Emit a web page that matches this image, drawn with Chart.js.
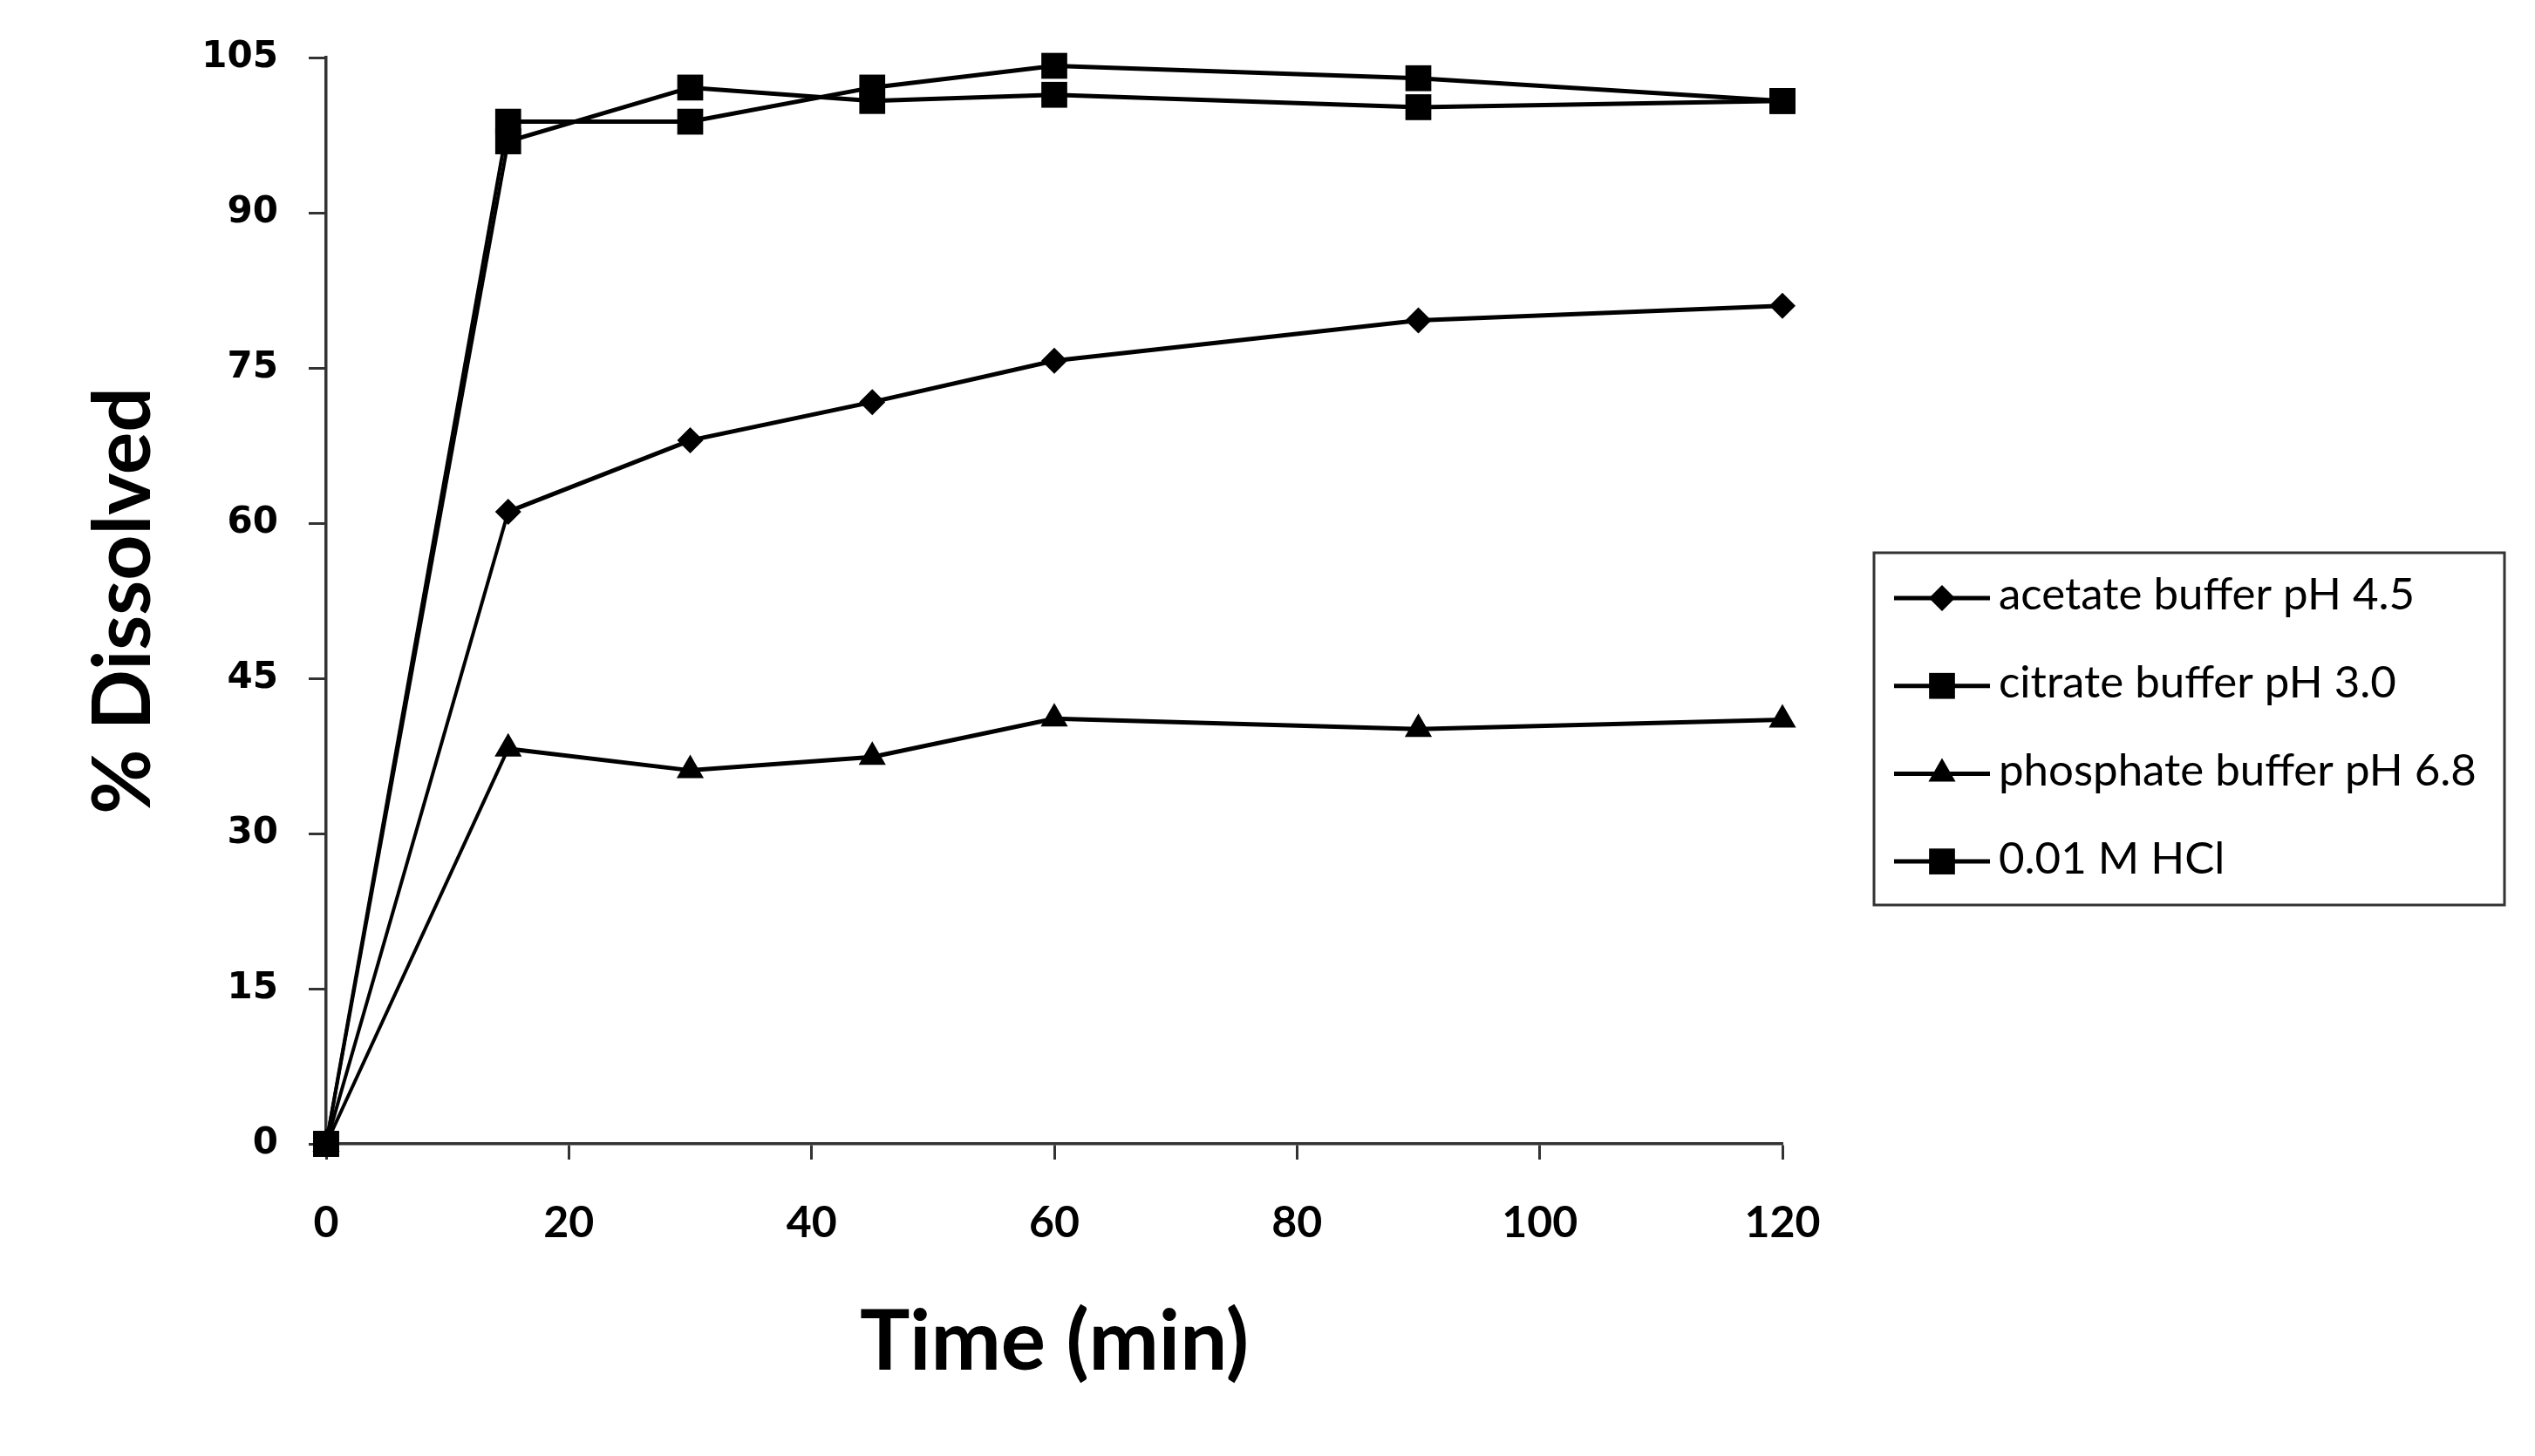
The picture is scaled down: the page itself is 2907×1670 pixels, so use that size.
<!DOCTYPE html>
<html>
<head>
<meta charset="utf-8">
<script src="https://cdn.jsdelivr.net/npm/chart.js"></script>
<style>
html,body{margin:0;padding:0;background:#ffffff;}
canvas{display:block;}
</style>
</head>
<body>
<canvas id="c" width="2907" height="1670"></canvas>
<script>
// ---- data ----
const timeMin   = [0, 15, 30, 45, 60, 90, 120];
const acetate   = [0, 61.1, 68.0, 71.7, 75.7, 79.6, 81.0];
const citrate   = [0, 98.8, 98.8, 102.1, 104.2, 103.0, 100.8];
const phosphate = [0, 38.2, 36.1, 37.4, 41.1, 40.1, 41.0];
const hcl       = [0, 96.9, 102.1, 100.8, 101.4, 100.2, 100.8];
const seriesLabels = ['acetate buffer pH 4.5', 'citrate buffer pH 3.0', 'phosphate buffer pH 6.8', '0.01 M HCl'];
const xTickValues = [0, 20, 40, 60, 80, 100, 120];
const yTickValues = [0, 15, 30, 45, 60, 75, 90, 105];
const xTitle = 'Time (min)';
const yTitle = '% Dissolved';

// ---- styling ----
const markerStyles = [
  {pointStyle: 'rectRot', radius: 15},
  {pointStyle: 'rect', radius: 21},
  {pointStyle: 'triangle', radius: 18},
  {pointStyle: 'rect', radius: 21}
];
const seriesValues = [acetate, citrate, phosphate, hcl];

function toPoints(vals) { return timeMin.map((t, i) => ({x: t, y: vals[i]})); }

const datasets = seriesValues.map((vals, i) => ({
  label: seriesLabels[i],
  data: toPoints(vals),
  borderColor: '#000',
  backgroundColor: '#000',
  pointBackgroundColor: '#000',
  pointBorderColor: '#000',
  pointBorderWidth: 0,
  pointStyle: markerStyles[i].pointStyle,
  pointRadius: markerStyles[i].radius,
  pointHoverRadius: markerStyles[i].radius,
  borderWidth: 5,
  tension: 0,
  clip: false,
  order: seriesValues.length - i,
  segment: { borderWidth: c => (c.p0DataIndex === 0 ? 4 : 5) }
}));

function drawMarker(ctx, style, r, x, y) {
  ctx.beginPath();
  if (style === 'rectRot') {
    ctx.moveTo(x - r, y); ctx.lineTo(x, y - r); ctx.lineTo(x + r, y); ctx.lineTo(x, y + r);
  } else if (style === 'triangle') {
    const a = 2 * Math.PI / 3;
    ctx.moveTo(x, y - r);
    ctx.lineTo(x + Math.sin(a) * r, y - Math.cos(a) * r);
    ctx.lineTo(x + Math.sin(2 * a) * r, y - Math.cos(2 * a) * r);
  } else {
    const s = Math.SQRT1_2 * r;
    ctx.rect(x - s, y - s, 2 * s, 2 * s);
  }
  ctx.closePath();
  ctx.fill();
}

const boxedLegend = {
  id: 'boxedLegend',
  afterDraw(chart) {
    const ctx = chart.ctx;
    const box = {left: 2149, top: 634, right: 2872, bottom: 1038};
    const row0 = 686, rowStep = 100.7, lx0 = 2172, lx1 = 2282, tx = 2292;
    ctx.save();
    ctx.lineWidth = 3;
    ctx.strokeStyle = '#333';
    ctx.strokeRect(box.left, box.top, box.right - box.left, box.bottom - box.top);
    chart.data.datasets.forEach((ds, i) => {
      const y = row0 + i * rowStep;
      ctx.beginPath();
      ctx.lineWidth = 5;
      ctx.strokeStyle = '#000';
      ctx.moveTo(lx0, y);
      ctx.lineTo(lx1, y);
      ctx.stroke();
      ctx.fillStyle = '#000';
      drawMarker(ctx, ds.pointStyle, ds.pointRadius, (lx0 + lx1) / 2, y);
      ctx.font = '51px Lato';
      ctx.textAlign = 'left';
      ctx.textBaseline = 'middle';
      ctx.fillText(ds.label, tx, y - 3);
    });
    ctx.restore();
  }
};

new Chart(document.getElementById('c'), {
  type: 'line',
  data: { datasets },
  plugins: [boxedLegend],
  options: {
    responsive: false,
    devicePixelRatio: 1,
    animation: false,
    events: [],
    layout: { padding: {left: 0, top: 66, right: 863, bottom: 0} },
    plugins: { legend: {display: false}, tooltip: {enabled: false} },
    scales: {
      x: {
        type: 'linear', min: 0, max: 120,
        afterBuildTicks: s => { s.ticks = xTickValues.map(v => ({value: v})); },
        afterFit: s => { s.height = 1670 - 1312; },
        border: {display: true, color: '#333', width: 3.5},
        grid: {display: true, drawOnChartArea: false, drawTicks: true, tickLength: 18, tickWidth: 3, tickColor: '#333'},
        ticks: {color: '#000', font: {family: 'Lato', weight: 'bold', size: 50}, padding: 43, maxRotation: 0, autoSkip: false},
        title: {display: true, text: xTitle, color: '#000', font: {family: 'Lato', weight: 'bold', size: 96}, padding: {top: 0, bottom: 72}}
      },
      y: {
        type: 'linear', min: 0, max: 105,
        afterBuildTicks: s => { s.ticks = yTickValues.map(v => ({value: v})); },
        afterFit: s => { s.width = 374; },
        border: {display: true, color: '#333', width: 3.5},
        grid: {display: true, drawOnChartArea: false, drawTicks: true, tickLength: 20, tickWidth: 3, tickColor: '#333'},
        ticks: {color: '#000', font: {family: 'DejaVu Sans', weight: 'bold', size: 42}, padding: 35, autoSkip: false},
        title: {display: true, text: yTitle, color: '#000', font: {family: 'Lato', weight: 'bold', size: 91}, padding: {top: 88, bottom: 0}}
      }
    }
  }
});
</script>
</body>
</html>
